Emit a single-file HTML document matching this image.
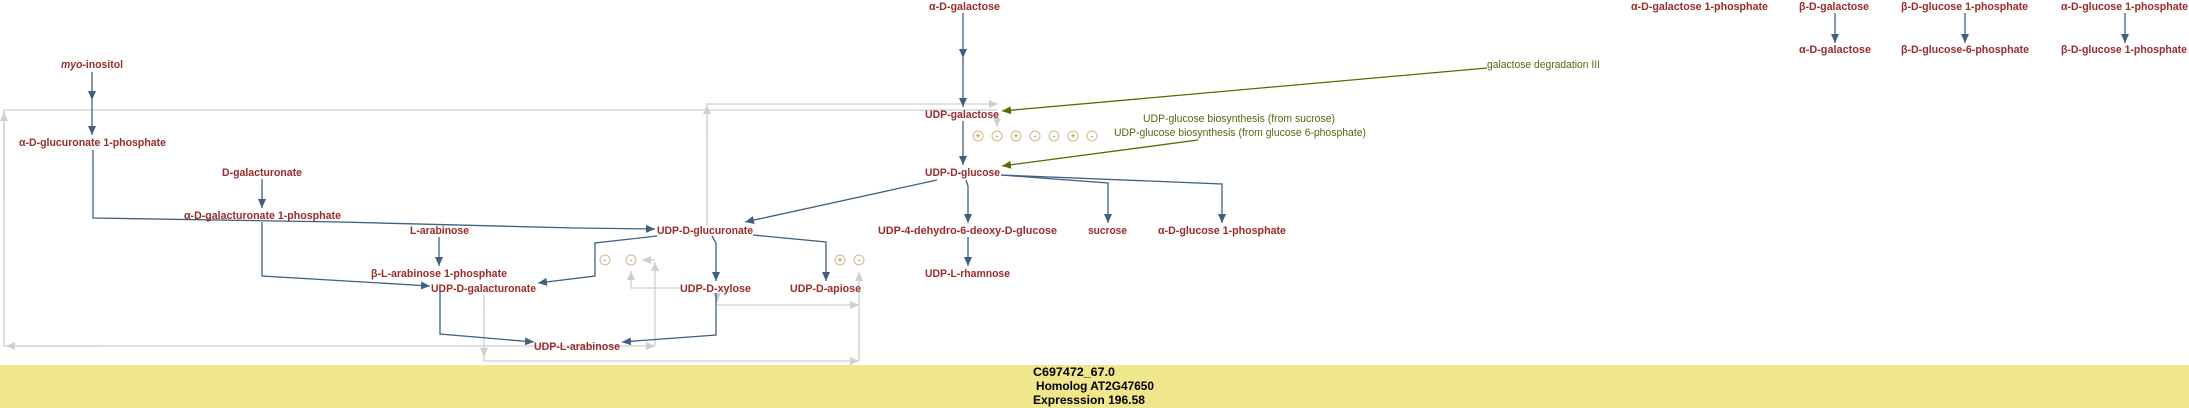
<!DOCTYPE html>
<html><head><meta charset="utf-8"><style>
html,body{margin:0;padding:0;background:#fff;width:2189px;height:408px;overflow:hidden}
svg{display:block}
.l{font-family:"Liberation Sans",sans-serif;font-weight:bold;font-size:11px;fill:#9b2b2b}
.g{font-family:"Liberation Sans",sans-serif;font-size:11px;fill:#4f6a10}
.b{fill:none;stroke:#3f607f;stroke-width:1.3}
.gr{fill:none;stroke:#cfcfcf;stroke-width:1.3}
.gn{fill:none;stroke:#556b00;stroke-width:1.3}
.c{fill:#fff;stroke:#c9b98a;stroke-width:1}
.ct{font-family:"Liberation Sans",sans-serif;font-size:9px;fill:#a08000;text-anchor:middle}
.f{font-family:"Liberation Sans",sans-serif;font-weight:bold;font-size:12px;fill:#000}
</style></head><body>
<svg width="2189" height="408" viewBox="0 0 2189 408" xmlns="http://www.w3.org/2000/svg">
<defs>
<marker id="ab" markerUnits="userSpaceOnUse" markerWidth="10" markerHeight="10" refX="9" refY="4" orient="auto"><path d="M0,0 L9,4 L0,8 z" fill="#3f607f"/></marker>
<marker id="ag" markerUnits="userSpaceOnUse" markerWidth="10" markerHeight="10" refX="9" refY="4" orient="auto"><path d="M0,0 L9,4 L0,8 z" fill="#556b00"/></marker>
<marker id="ay" markerUnits="userSpaceOnUse" markerWidth="10" markerHeight="10" refX="9" refY="4" orient="auto"><path d="M0,0 L9,4 L0,8 z" fill="#cfcfcf"/></marker>
</defs>
<rect x="0" y="365" width="2189" height="43" fill="#f0e68c"/>

<!-- grey lines -->
<path class="gr" d="M997,110 L4,110 L4,346 L655,346" marker-end="url(#ay)"/>
<path class="gr" d="M4,200 L4,112" marker-end="url(#ay)"/>
<path class="gr" d="M100,346 L6,346" marker-end="url(#ay)"/>
<path class="gr" d="M707,225 L707,104 L998,104" marker-end="url(#ay)"/>
<path class="gr" d="M707,140 L707,105" marker-end="url(#ay)"/>
<path class="gr" d="M997,112 L997,127" marker-end="url(#ay)"/>
<path class="gr" d="M655,346 L655,262" marker-end="url(#ay)"/>
<path class="gr" d="M655,260 L642,260" marker-end="url(#ay)"/>
<path class="gr" d="M680,288 L631,288 L631,271" marker-end="url(#ay)"/>
<path class="gr" d="M484,295 L484,357" marker-end="url(#ay)"/>
<path class="gr" d="M484,357 L484,361 L859,361" marker-end="url(#ay)"/>
<path class="gr" d="M859,361 L859,272" marker-end="url(#ay)"/>
<path class="gr" d="M717,305 L859,305" marker-end="url(#ay)"/>
<path class="gr" d="M717,293 L717,302" marker-end="url(#ay)"/>

<!-- blue lines -->
<path class="b" d="M92,72 L92,100" marker-end="url(#ab)"/>
<path class="b" d="M92,100 L92,135" marker-end="url(#ab)"/>
<path class="b" d="M93,150 L93,218 L340,222 L575,228 L655,229" marker-end="url(#ab)"/>
<path class="b" d="M262,179 L262,208" marker-end="url(#ab)"/>
<path class="b" d="M262,222 L262,276 L430,286" marker-end="url(#ab)"/>
<path class="b" d="M439,237 L439,266" marker-end="url(#ab)"/>
<path class="b" d="M657,236 L595,243 L595,276 L538,283" marker-end="url(#ab)"/>
<path class="b" d="M712,236 L716,243 L716,281" marker-end="url(#ab)"/>
<path class="b" d="M753,235 L826,242 L826,281" marker-end="url(#ab)"/>
<path class="b" d="M440,292 L440,334 L534,342" marker-end="url(#ab)"/>
<path class="b" d="M716,293 L716,335 L622,342" marker-end="url(#ab)"/>
<path class="b" d="M963,13 L963,58" marker-end="url(#ab)"/>
<path class="b" d="M963,58 L963,107" marker-end="url(#ab)"/>
<path class="b" d="M963,121 L963,165" marker-end="url(#ab)"/>
<path class="b" d="M937,180 L745,222" marker-end="url(#ab)"/>
<path class="b" d="M966,180 L968,186 L968,223" marker-end="url(#ab)"/>
<path class="b" d="M1001,175 L1108,183 L1108,223" marker-end="url(#ab)"/>
<path class="b" d="M1001,175 L1222,184 L1222,223" marker-end="url(#ab)"/>
<path class="b" d="M968,237 L968,266" marker-end="url(#ab)"/>
<path class="b" d="M1835,13 L1835,43" marker-end="url(#ab)"/>
<path class="b" d="M1965,13 L1965,43" marker-end="url(#ab)"/>
<path class="b" d="M2125,13 L2125,43" marker-end="url(#ab)"/>

<!-- green -->
<path class="gn" d="M1487,68 L1002,111" marker-end="url(#ag)"/>
<path class="gn" d="M1198,140 L1002,166" marker-end="url(#ag)"/>

<!-- circles -->
<g>
<circle class="c" cx="978" cy="136" r="5"/><text class="ct" x="978" y="139">+</text>
<circle class="c" cx="997" cy="136" r="5"/><text class="ct" x="997" y="139">-</text>
<circle class="c" cx="1016" cy="136" r="5"/><text class="ct" x="1016" y="139">+</text>
<circle class="c" cx="1035" cy="136" r="5"/><text class="ct" x="1035" y="139">-</text>
<circle class="c" cx="1054" cy="136" r="5"/><text class="ct" x="1054" y="139">-</text>
<circle class="c" cx="1073" cy="136" r="5"/><text class="ct" x="1073" y="139">+</text>
<circle class="c" cx="1092" cy="136" r="5"/><text class="ct" x="1092" y="139">-</text>
<circle class="c" cx="840" cy="260" r="5"/><text class="ct" x="840" y="263">+</text>
<circle class="c" cx="859" cy="260" r="5"/><text class="ct" x="859" y="263">-</text>
<circle class="c" cx="605" cy="260" r="5"/><text class="ct" x="605" y="263">-</text>
<circle class="c" cx="631" cy="260" r="5"/><text class="ct" x="631" y="263">-</text>
</g>

<!-- labels -->
<text class="l" x="61" y="68" textLength="62" lengthAdjust="spacingAndGlyphs"><tspan font-style="italic">myo</tspan>-inositol</text>
<text class="l" x="19" y="146" textLength="147" lengthAdjust="spacingAndGlyphs">α-D-glucuronate 1-phosphate</text>
<text class="l" x="222" y="176" textLength="80" lengthAdjust="spacingAndGlyphs">D-galacturonate</text>
<text class="l" x="184" y="219" textLength="157" lengthAdjust="spacingAndGlyphs">α-D-galacturonate 1-phosphate</text>
<text class="l" x="410" y="234" textLength="59" lengthAdjust="spacingAndGlyphs">L-arabinose</text>
<text class="l" x="371" y="277" textLength="136" lengthAdjust="spacingAndGlyphs">β-L-arabinose 1-phosphate</text>
<text class="l" x="431" y="292" textLength="105" lengthAdjust="spacingAndGlyphs">UDP-D-galacturonate</text>
<text class="l" x="534" y="350" textLength="86" lengthAdjust="spacingAndGlyphs">UDP-L-arabinose</text>
<text class="l" x="657" y="234" textLength="96" lengthAdjust="spacingAndGlyphs">UDP-D-glucuronate</text>
<text class="l" x="680" y="292" textLength="71" lengthAdjust="spacingAndGlyphs">UDP-D-xylose</text>
<text class="l" x="790" y="292" textLength="71" lengthAdjust="spacingAndGlyphs">UDP-D-apiose</text>
<text class="l" x="929" y="10" textLength="71" lengthAdjust="spacingAndGlyphs">α-D-galactose</text>
<text class="l" x="925" y="118" textLength="74" lengthAdjust="spacingAndGlyphs">UDP-galactose</text>
<text class="l" x="925" y="176" textLength="75" lengthAdjust="spacingAndGlyphs">UDP-D-glucose</text>
<text class="l" x="878" y="234" textLength="179" lengthAdjust="spacingAndGlyphs">UDP-4-dehydro-6-deoxy-D-glucose</text>
<text class="l" x="1088" y="234" textLength="39" lengthAdjust="spacingAndGlyphs">sucrose</text>
<text class="l" x="1158" y="234" textLength="128" lengthAdjust="spacingAndGlyphs">α-D-glucose 1-phosphate</text>
<text class="l" x="925" y="277" textLength="85" lengthAdjust="spacingAndGlyphs">UDP-L-rhamnose</text>
<text class="l" x="1631" y="10" textLength="137" lengthAdjust="spacingAndGlyphs">α-D-galactose 1-phosphate</text>
<text class="l" x="1799" y="10" textLength="70" lengthAdjust="spacingAndGlyphs">β-D-galactose</text>
<text class="l" x="1799" y="53" textLength="72" lengthAdjust="spacingAndGlyphs">α-D-galactose</text>
<text class="l" x="1901" y="10" textLength="127" lengthAdjust="spacingAndGlyphs">β-D-glucose 1-phosphate</text>
<text class="l" x="1901" y="53" textLength="128" lengthAdjust="spacingAndGlyphs">β-D-glucose-6-phosphate</text>
<text class="l" x="2061" y="10" textLength="127" lengthAdjust="spacingAndGlyphs">α-D-glucose 1-phosphate</text>
<text class="l" x="2061" y="53" textLength="126" lengthAdjust="spacingAndGlyphs">β-D-glucose 1-phosphate</text>

<text class="g" x="1487" y="68" textLength="113" lengthAdjust="spacingAndGlyphs">galactose degradation III</text>
<text class="g" x="1143" y="122" textLength="192" lengthAdjust="spacingAndGlyphs">UDP-glucose biosynthesis (from sucrose)</text>
<text class="g" x="1114" y="136" textLength="252" lengthAdjust="spacingAndGlyphs">UDP-glucose biosynthesis (from glucose 6-phosphate)</text>

<text class="f" x="1033" y="376" textLength="82" lengthAdjust="spacingAndGlyphs">C697472_67.0</text>
<text class="f" x="1036" y="390" textLength="118" lengthAdjust="spacingAndGlyphs">Homolog AT2G47650</text>
<text class="f" x="1033" y="404" textLength="112" lengthAdjust="spacingAndGlyphs">Expresssion 196.58</text>
</svg>
</body></html>
